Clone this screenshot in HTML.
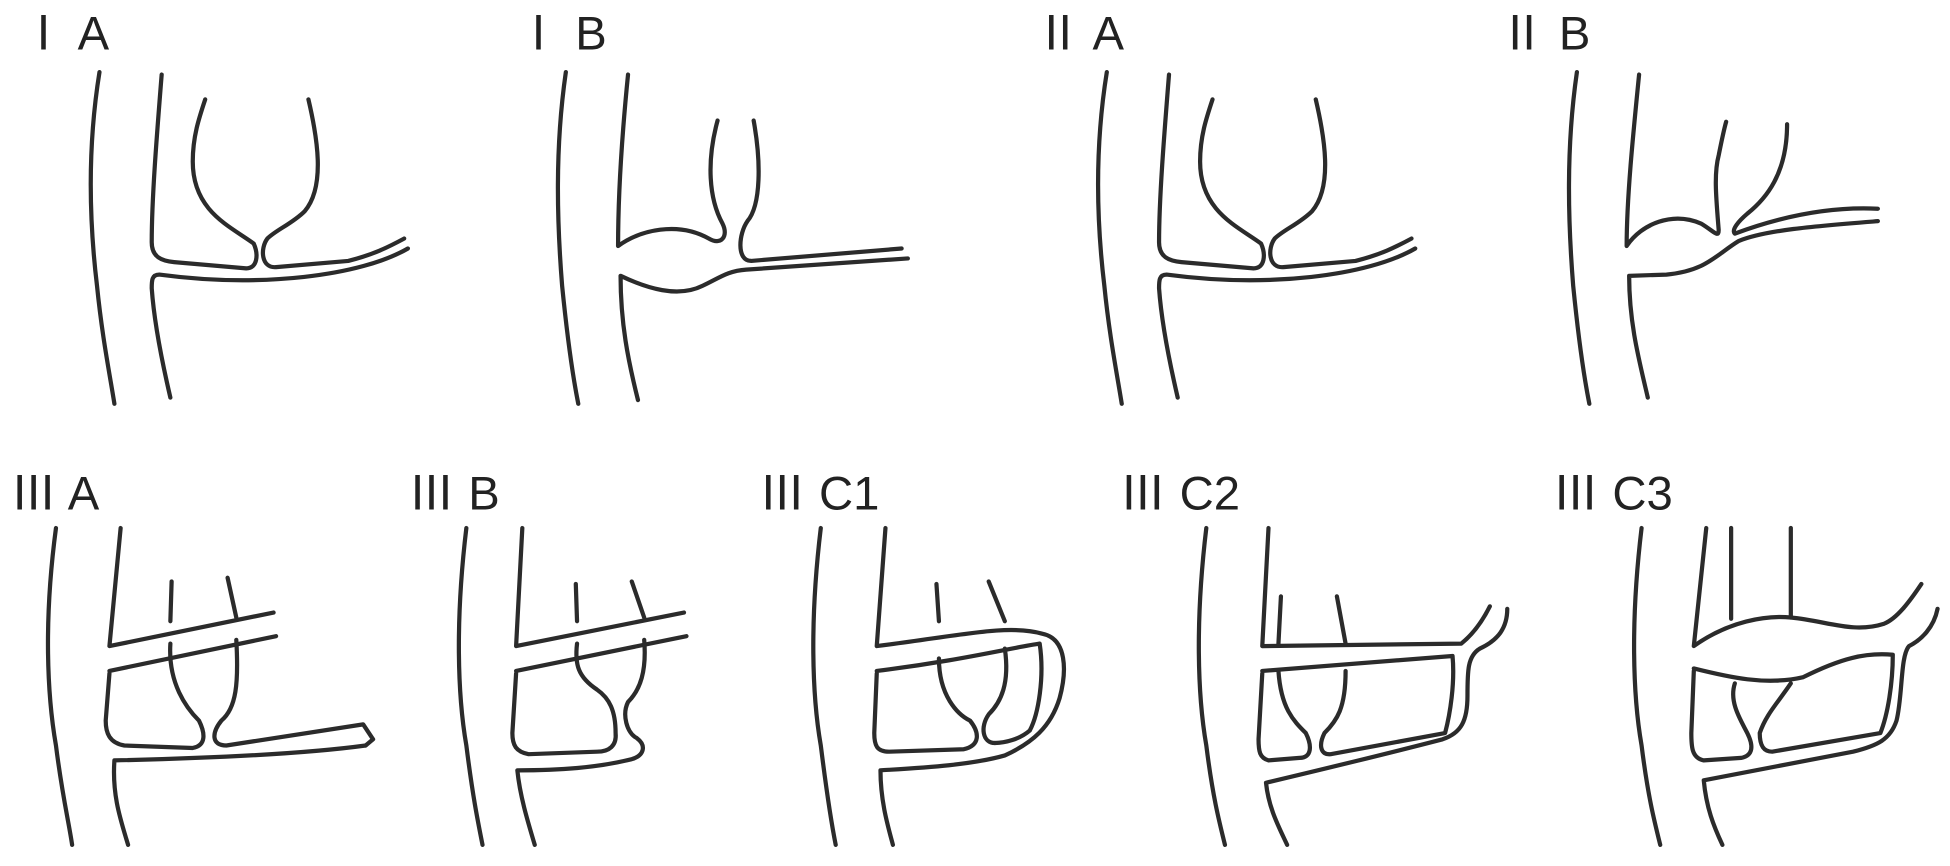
<!DOCTYPE html>
<html><head><meta charset="utf-8"><style>
html,body{margin:0;padding:0;background:#fff;width:1950px;height:866px;overflow:hidden}
svg{display:block}
text{font-family:"Liberation Sans","Noto Sans CJK SC",sans-serif;font-size:38px;fill:#222}
path{fill:none;stroke:#2b2b2b;stroke-width:3.4;stroke-linecap:round;stroke-linejoin:round}
</style></head><body>
<svg width="1950" height="866" viewBox="0 0 1568 697" preserveAspectRatio="none">
<text x="16" y="40">Ⅰ A</text>
<text x="414" y="40">Ⅰ B</text>
<text x="832" y="40">Ⅱ A</text>
<text x="1205" y="40">Ⅱ B</text>
<text x="8" y="410">Ⅲ A</text>
<text x="328" y="410">Ⅲ B</text>
<text x="610" y="410">Ⅲ C1</text>
<text x="900" y="410">Ⅲ C2</text>
<text x="1248" y="410">Ⅲ C3</text>

<g id="ia">
<path d="M80,58 C70,120 72,180 78,230 C82,270 88,300 92,325"/>
<path d="M130,60 C126,110 122,160 122,195 C122,207 130,210 140,211 L198,216 C207,216 208,205 204,196 C185,182 155,170 155,130 C155,110 160,95 165,80"/>
<path d="M248,80 C255,110 262,150 245,170 C235,180 222,185 215,192 C209,200 210,216 222,215 L280,210 C300,205 312,199 325,192"/>
<path d="M328,200 C290,222 210,232 128,221 C122,221 122,226 122,232 C124,260 130,290 137,320"/>
</g>
<use href="#ia" transform="translate(810,0)"/>

<path d="M455,58 C446,120 448,180 452,230 C456,270 460,300 465,325"/>
<path d="M505,60 C500,110 497,160 497,198 C515,185 545,178 570,192 C580,198 586,190 581,180 C570,160 568,130 577,97"/>
<path d="M606,97 C612,130 612,165 601,178 C594,188 592,210 604,210 L725,200"/>
<path d="M730,208 L600,217 C585,218 578,224 565,230 C545,240 520,232 499,222 C499,260 505,290 513,322"/>

<path d="M1268,58 C1259,120 1261,180 1265,230 C1269,270 1273,300 1278,325"/>
<path d="M1318,60 C1313,110 1308,160 1308,198 C1320,180 1345,170 1368,180 C1378,186 1382,192 1382,185 C1380,160 1378,140 1382,125 C1384,115 1386,105 1388,98"/>
<path d="M1437,100 C1437,140 1420,160 1405,172 C1398,178 1392,185 1395,188 C1430,175 1470,166 1510,168"/>
<path d="M1510,178 C1460,182 1420,185 1398,194 C1380,205 1372,218 1340,221 L1310,222 C1310,260 1318,290 1325,320"/>

<path d="M45,425 C35,500 38,560 45,600 C50,640 55,660 58,680"/>
<path d="M97,425 L88,520 L220,493"/>
<path d="M222,512 L88,540"/>
<path d="M138,468 L137,500"/><path d="M183,465 L190,497"/>
<path d="M137,518 C135,550 150,570 160,580 C165,590 166,600 155,602 L100,600 C88,598 85,590 85,580 L88,542"/>
<path d="M190,515 C192,550 190,570 178,580 C170,590 170,600 182,600 L292,583 L300,595 L294,600"/>
<path d="M294,600 C250,606 180,610 92,612 C90,640 97,660 103,680"/>

<path d="M375,425 C366,500 368,560 375,600 C380,640 384,660 388,680"/>
<path d="M420,425 L415,520 L550,493"/>
<path d="M552,512 L415,540"/>
<path d="M463,470 L464,500"/><path d="M508,468 L518,497"/>
<path d="M464,518 C462,535 465,545 480,555 C490,562 495,572 495,590 C496,600 490,605 480,605 L425,607 C415,605 412,600 412,590 L415,542"/>
<path d="M518,515 C520,540 515,555 505,565 C500,575 504,590 512,594 C520,600 518,608 508,611 C480,618 450,620 416,620 C418,640 424,660 430,680"/>

<path d="M660,425 C651,500 653,560 660,600 C665,640 668,660 672,680"/>
<path d="M712,425 L705,520 C770,512 810,502 838,510 C858,514 858,540 852,562 C845,585 830,598 808,608 C780,616 740,618 708,620 C708,645 714,665 718,680"/>
<path d="M705,540 C770,532 810,522 836,518 C840,545 835,575 828,588 C820,595 808,598 800,598"/>
<path d="M753,470 L755,500"/><path d="M795,468 L808,500"/>
<path d="M755,530 C755,560 770,575 780,580 C788,590 788,600 775,603 L715,605 C705,605 703,600 703,590 L705,542"/>
<path d="M808,522 C812,550 805,565 795,575 C788,585 790,598 800,598"/>

<path d="M970,425 C961,500 963,560 970,600 C975,640 980,660 985,680"/>
<path d="M1020,425 L1015,520 L1175,518 C1185,510 1192,500 1198,488"/>
<path d="M1015,540 L1168,528 C1170,550 1166,575 1162,590 L1070,607 C1062,608 1060,600 1065,590 C1075,580 1082,570 1082,540"/>
<path d="M1212,490 C1212,505 1205,515 1190,522 C1180,528 1180,540 1180,560 C1180,580 1175,590 1160,595 C1110,608 1060,620 1018,630 C1020,650 1028,665 1035,680"/>
<path d="M1030,480 L1028,518"/><path d="M1075,480 L1082,518"/>
<path d="M1028,540 C1030,570 1040,580 1050,590 C1055,600 1055,610 1045,610 L1020,612 C1013,610 1012,605 1012,595 L1015,542"/>

<path d="M1320,425 C1311,500 1313,560 1320,600 C1325,640 1330,660 1335,680"/>
<path d="M1372,425 L1362,520 C1390,500 1420,495 1440,497 C1470,500 1490,510 1515,502 C1525,498 1535,485 1545,470"/>
<path d="M1392,425 L1392,498"/><path d="M1440,425 L1440,497"/>
<path d="M1362,538 C1390,545 1420,552 1450,545 C1480,530 1500,525 1522,527 C1522,550 1518,575 1512,590 L1425,605 C1418,605 1415,600 1415,590 C1420,575 1430,565 1440,550"/>
<path d="M1558,490 C1555,505 1545,515 1535,520 C1528,528 1530,560 1525,580 C1520,595 1510,600 1490,605 L1370,628 C1372,650 1378,665 1385,680"/>
<path d="M1395,550 C1390,565 1400,580 1405,590 C1410,600 1410,608 1400,610 L1370,612 C1360,610 1360,600 1360,590 L1362,540"/>
</svg>
</body></html>
